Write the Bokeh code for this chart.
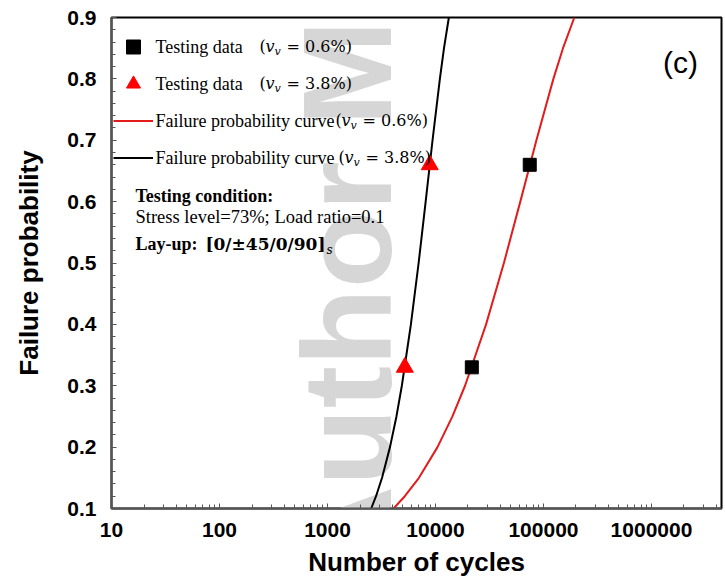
import math
from bokeh.plotting import figure
from bokeh.models import Label, Legend, LegendItem, FixedTicker
from bokeh.embed import file_html
from bokeh.resources import INLINE

# ---------------- data ----------------
x_ticks = [10, 100, 1000, 10000, 100000, 1000000]
x_tick_labels = ["10", "100", "1000", "10000", "100000", "1000000"]
y_ticks = [0.1, 0.2, 0.3, 0.4, 0.5, 0.6, 0.7, 0.8, 0.9]
y_tick_labels = ["0.1", "0.2", "0.3", "0.4", "0.5", "0.6", "0.7", "0.8", "0.9"]

# testing data, v_v = 0.6% (black squares)
cycles_06 = [21700, 74600]
prob_06 = [0.33, 0.66]
# testing data, v_v = 3.8% (red triangles)
cycles_38 = [5200, 8850]
prob_38 = [0.33, 0.66]

# failure probability curves
curve_prob = [0.10, 0.12, 0.15, 0.20, 0.25, 0.30, 0.40, 0.50, 0.60, 0.70, 0.80, 0.85, 0.90]
curve_cycles_06 = [4090, 5200, 7030, 10440, 14350, 18770, 29400, 43000, 61000, 86000, 123500, 151600, 193000]
curve_cycles_38 = [2540, 2815, 3200, 3790, 4350, 4880, 5920, 6980, 8110, 9390, 10980, 11990, 13300]

# ---------------- layout constants ----------------
FL = 111.0   # page x of frame left
FB = 508.0   # page y of frame bottom
NB = "\u00a0"

p = figure(width=725, height=579, x_axis_type="log", x_range=(10, 4.45e6), y_range=(0.1, 0.9),
           output_backend="svg", toolbar_location=None,
           min_border_left=111, min_border_right=4, min_border_top=17, min_border_bottom=71)
p.background_fill_color = "white"
p.border_fill_color = "white"
p.grid.visible = False
p.outline_line_color = "black"
p.outline_line_width = 2

x_minor = [m * 10 ** k for k in range(1, 7) for m in range(2, 10)]
p.xaxis.ticker = FixedTicker(ticks=x_ticks, minor_ticks=x_minor)
p.xaxis.major_label_overrides = {t: s for t, s in zip(x_ticks, x_tick_labels)}
y_minor = [round(0.1 + 0.02 * i, 2) for i in range(41)]
p.yaxis.ticker = FixedTicker(ticks=y_ticks, minor_ticks=y_minor)
p.yaxis.major_label_overrides = {t: s for t, s in zip(y_ticks, y_tick_labels)}

for ax in (p.xaxis[0], p.yaxis[0]):
    ax.axis_line_color = "#555555"
    ax.axis_line_width = 2
    ax.major_tick_line_color = "#555555"
    ax.minor_tick_line_color = "#555555"
    ax.major_tick_in = 5
    ax.major_tick_out = 0
    ax.minor_tick_in = 4
    ax.minor_tick_out = 0
    ax.major_label_text_font = "Liberation Sans"
    ax.major_label_text_font_style = "bold"
    ax.major_label_text_font_size = "21px"
    ax.major_label_text_color = "black"
    ax.axis_label_text_font = "Liberation Sans"
    ax.axis_label_text_font_style = "bold"
    ax.axis_label_text_font_size = "26px"
    ax.axis_label_text_color = "black"

p.xaxis.axis_label = "Number of cycles"
p.yaxis.axis_label = "Failure probability"
p.xaxis.major_label_standoff = 14
p.xaxis.axis_label_standoff = 7
p.yaxis.major_label_standoff = 15
p.yaxis.axis_label_standoff = 20


def lab(text, px, py, size, font="Liberation Serif", style="normal", align="left",
        baseline="middle", color="black", angle=0.0, level="annotation", alpha=1.0):
    lb = Label(x=px - FL, y=FB - py, x_units="screen", y_units="screen", text=text,
               text_font=font, text_font_style=style, text_font_size=f"{size}px",
               text_align=align, text_baseline=baseline, text_color=color,
               angle=angle, level=level, text_alpha=alpha)
    p.add_layout(lb)


# watermark (light grey, behind everything)
lab("Author M", 346, 577, 127, font="Liberation Sans", style="bold", baseline="alphabetic",
    color="#d2d2d2", angle=math.pi / 2, level="underlay", alpha=0.9)

# curves and points
r_red = p.line(curve_cycles_06, curve_prob, line_color="#e31b1b", line_width=2)
r_blk = p.line(curve_cycles_38, curve_prob, line_color="black", line_width=2)
r_sq = p.scatter(cycles_06, prob_06, marker="square", size=13, fill_color="black", line_color="black")
r_tri = p.scatter(cycles_38, prob_38, marker="triangle", size=17, fill_color="#ff0000", line_color="#ff0000")

legend = Legend(items=[LegendItem(label=" ", renderers=[r_sq]),
                       LegendItem(label=" ", renderers=[r_tri]),
                       LegendItem(label=" ", renderers=[r_red]),
                       LegendItem(label=" ", renderers=[r_blk])],
                location=(2, 333), glyph_width=40, glyph_height=35, label_width=0, label_height=0,
                label_standoff=0, spacing=2, padding=0, margin=0,
                border_line_alpha=0, background_fill_alpha=0, label_text_font_size="1px")
p.add_layout(legend)


def math_part(x0, py, tail):
    lab("(", x0, py, 16, font="DejaVu Serif")
    lab("v", x0 + 6, py, 16, font="DejaVu Serif", style="italic")
    lab("v", x0 + 15, py + 5, 11, font="DejaVu Serif", style="italic")
    lab(tail, x0 + 22, py, 16, font="DejaVu Serif")


lab("Testing data", 155, 46, 18)
math_part(259, 46, NB + "=" + NB + "0.6%)")
lab("Testing data", 155, 83, 18)
math_part(259, 83, NB + "=" + NB + "3.8%)")
lab("Failure probability curve", 155, 120, 18)
math_part(335, 120, NB + "=" + NB + "0.6%)")
lab("Failure probability curve", 155, 157, 18)
math_part(338, 157, NB + "=" + NB + "3.8%)")

lab("Testing condition:", 135, 195, 18, style="bold")
lab("Stress level=73%; Load ratio=0.1", 135, 216, 18.5)
lab("Lay-up:", 135, 243, 18, style="bold")
lab("[0/\u00b145/0/90]", 205, 243, 17, font="DejaVu Serif", style="bold")
lab("s", 326, 249, 12, font="DejaVu Serif", style="italic")

lab("(c)", 680, 62, 30, font="Liberation Sans", align="center")

open("out.html", "w").write(file_html(p, INLINE))
